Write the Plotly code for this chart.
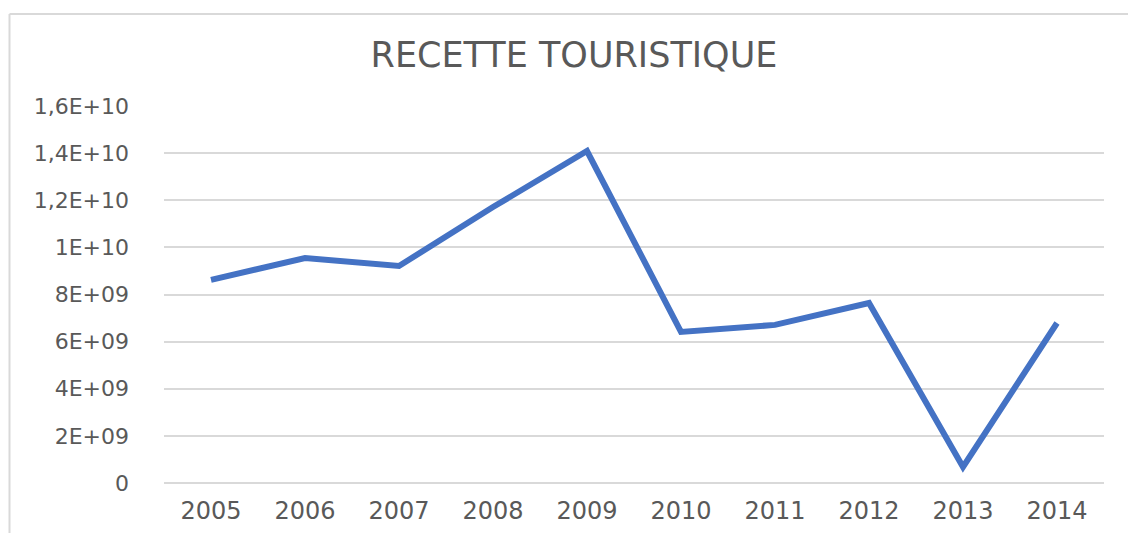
import plotly.graph_objects as go

years = ["2005", "2006", "2007", "2008", "2009", "2010", "2011", "2012", "2013", "2014"]
recette = [8.62e9, 9.55e9, 9.21e9, 11.71e9, 14.09e9, 6.41e9, 6.71e9, 7.64e9, 0.68e9, 6.79e9]

y_tickvals = [0, 2e9, 4e9, 6e9, 8e9, 1e10, 1.2e10, 1.4e10, 1.6e10]
y_ticktext = ["0", "2E+09", "4E+09", "6E+09", "8E+09", "1E+10", "1,2E+10", "1,4E+10", "1,6E+10"]

W, H = 1128, 533
ml, mr, mt, mb = 164, 24, 106, 50
pw, ph = W - ml - mr, H - mt - mb

def px_x(x):
    return (x - ml) / pw

def px_y(y):
    return (H - mb - y) / ph

fig = go.Figure()
fig.add_trace(go.Scatter(
    x=years, y=recette, mode="lines",
    line=dict(color="#4472C4", width=6),
    showlegend=False,
))

font_family = "DejaVu Sans"
grid = "#D9D9D9"

fig.update_layout(
    width=W, height=H,
    margin=dict(l=ml, r=mr, t=mt, b=mb, autoexpand=False),
    paper_bgcolor="white", plot_bgcolor="white",
    title=dict(text="RECETTE TOURISTIQUE", x=(348 + 800) / 2 / W, xanchor="center",
               y=1 - 55 / H, yanchor="middle",
               font=dict(family=font_family, size=35, color="#595959")),
    xaxis=dict(range=[-0.5, len(years) - 0.5], automargin=False,
               showgrid=False, zeroline=False, showline=False, ticks="",
               tickfont=dict(family=font_family, size=24, color="#595959"),
               ticklabelstandoff=11),
    yaxis=dict(range=[0, 1.6e10], tickvals=y_tickvals, ticktext=y_ticktext,
               automargin=False,
               showgrid=True, gridcolor=grid, gridwidth=1.5,
               zeroline=True, zerolinecolor=grid, zerolinewidth=1.5,
               showline=False, ticks="",
               tickfont=dict(family=font_family, size=22, color="#595959"),
               ticklabelstandoff=34),
    shapes=[
        dict(type="line", xref="paper", yref="paper",
             x0=px_x(9.5), x1=px_x(W + 5), y0=px_y(14), y1=px_y(14),
             line=dict(color=grid, width=2)),
        dict(type="line", xref="paper", yref="paper",
             x0=px_x(9.5), x1=px_x(9.5), y0=px_y(14), y1=px_y(H + 5),
             line=dict(color=grid, width=2)),
    ],
)

post = ("var gd=document.getElementById('{plot_id}');"
        "document.documentElement.style.margin='0';"
        "document.body.style.margin='0';"
        "document.body.style.padding='0';"
        "document.body.style.overflow='hidden';"
        "Plotly.relayout(gd,{width:1128,height:533});")

fig.write_html("out.html", post_script=post, config={"displayModeBar": False})
